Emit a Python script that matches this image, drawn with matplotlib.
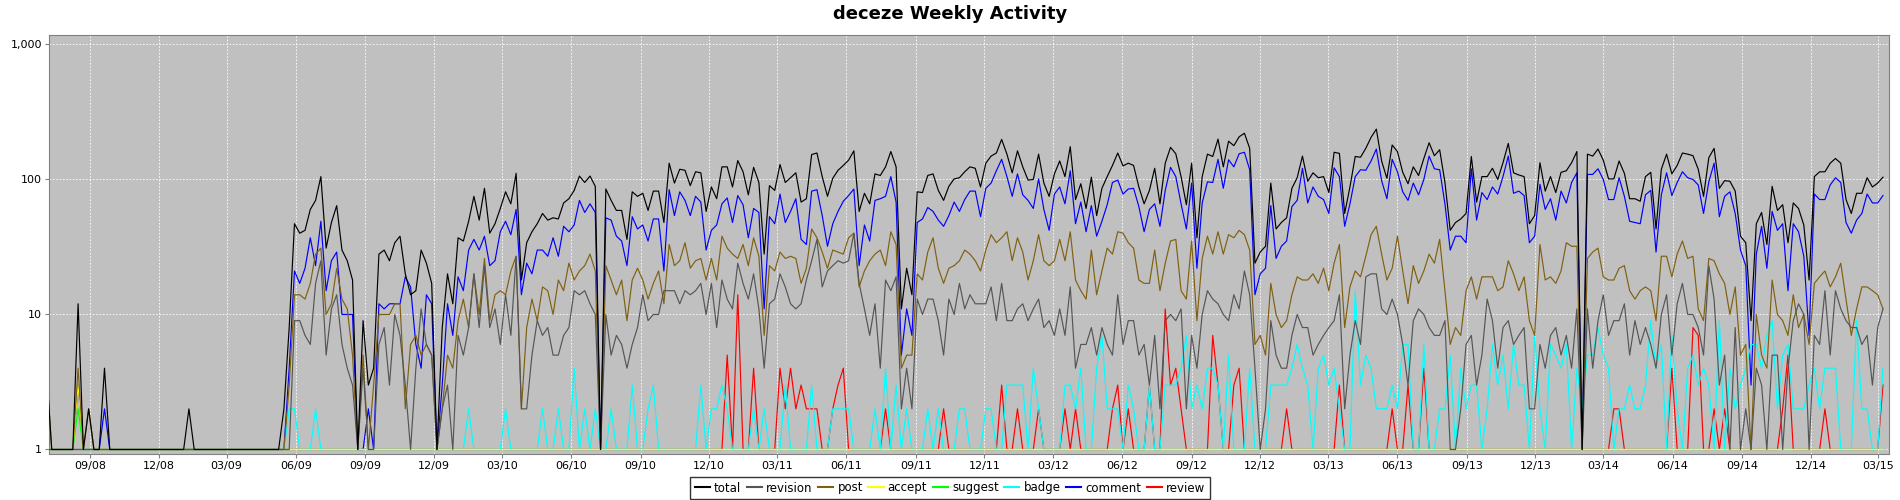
import datetime as dt

import matplotlib
matplotlib.use('Agg')
import matplotlib.dates as mdates
import matplotlib.pyplot as plt
import matplotlib.ticker as mticker
import numpy as np
from matplotlib.lines import Line2D


# weekly counts, week -1 (clipped at the left edge) .. week 347
FIRST_WEEK = dt.date(2008, 7, 5)

TOTAL = [4,
    1, 1, 1, 1, 1, 12, 1, 2, 1, 1,
    4, 1, 1, 1, 1, 1, 1, 1, 1, 1,
    1, 1, 1, 1, 1, 1, 2, 1, 1, 1,
    1, 1, 1, 1, 1, 1, 1, 1, 1, 1,
    1, 1, 1, 1, 2, 8, 47, 40, 42, 60,
    70, 105, 31, 48, 64, 30, 25, 18, 1, 9,
    3, 4, 28, 30, 25, 34, 38, 20, 14, 15,
    30, 24, 17, 1, 8, 20, 12, 37, 35, 49,
    75, 50, 86, 40, 47, 61, 81, 66, 111, 18,
    34, 41, 47, 56, 50, 52, 51, 67, 72, 83,
    106, 95, 106, 89, 1, 85, 70, 59, 59, 36,
    81, 75, 79, 59, 82, 82, 48, 132, 94, 119,
    117, 90, 114, 112, 58, 88, 72, 124, 124, 88,
    138, 114, 77, 123, 95, 28, 90, 83, 129, 95,
    103, 112, 68, 72, 153, 157, 105, 75, 102, 117,
    127, 139, 163, 58, 79, 66, 110, 107, 124, 161,
    124, 11, 22, 14, 81, 80, 107, 110, 83, 70,
    89, 101, 103, 114, 124, 121, 88, 132, 149, 157,
    198, 154, 112, 163, 124, 99, 100, 154, 94, 75,
    110, 137, 105, 175, 71, 93, 61, 104, 54, 86,
    105, 127, 157, 126, 132, 127, 88, 66, 83, 121,
    66, 132, 173, 155, 105, 65, 132, 37, 105, 154,
    148, 199, 124, 192, 178, 207, 220, 170, 24, 29,
    32, 94, 43, 48, 52, 86, 103, 149, 97, 112,
    103, 105, 80, 159, 156, 56, 88, 148, 146, 170,
    205, 236, 137, 102, 180, 161, 113, 93, 124, 107,
    143, 187, 150, 166, 95, 42, 48, 51, 56, 148,
    68, 105, 105, 121, 100, 133, 185, 112, 108, 105,
    47, 54, 133, 82, 105, 80, 113, 116, 133, 161,
    1, 154, 149, 168, 139, 101, 101, 137, 111, 72,
    72, 69, 105, 113, 43, 119, 154, 110, 127, 157,
    154, 150, 119, 75, 145, 170, 86, 98, 97, 82,
    38, 34, 9, 47, 57, 33, 89, 59, 65, 34,
    67, 61, 46, 18, 105, 114, 114, 132, 143, 132,
    71, 56, 79, 79, 103, 88, 94, 104]

COMMENT = [1,
    1, 1, 1, 1, 1, 3, 1, 1, 1, 1,
    2, 1, 1, 1, 1, 1, 1, 1, 1, 1,
    1, 1, 1, 1, 1, 1, 1, 1, 1, 1,
    1, 1, 1, 1, 1, 1, 1, 1, 1, 1,
    1, 1, 1, 1, 1, 4, 21, 17, 22, 37,
    23, 49, 15, 25, 29, 10, 10, 10, 1, 1,
    2, 1, 12, 11, 12, 12, 12, 19, 16, 6,
    4, 14, 12, 1, 3, 12, 7, 19, 15, 30,
    36, 30, 38, 23, 25, 41, 49, 39, 60, 14,
    24, 20, 30, 30, 27, 37, 27, 45, 41, 46,
    70, 57, 66, 57, 1, 52, 50, 38, 35, 23,
    53, 43, 46, 35, 51, 51, 21, 84, 54, 81,
    70, 54, 75, 68, 30, 42, 46, 66, 73, 48,
    76, 65, 37, 61, 57, 11, 53, 47, 78, 48,
    58, 72, 36, 33, 82, 84, 54, 32, 47, 58,
    69, 76, 85, 23, 46, 35, 70, 72, 75, 105,
    68, 5, 11, 7, 48, 51, 62, 58, 50, 45,
    54, 68, 58, 71, 82, 82, 53, 86, 94, 116,
    141, 105, 75, 110, 77, 70, 61, 101, 60, 42,
    78, 88, 66, 116, 47, 68, 41, 64, 38, 49,
    65, 95, 99, 78, 85, 86, 63, 41, 60, 66,
    45, 83, 123, 105, 66, 43, 94, 22, 67, 96,
    95, 141, 86, 140, 124, 155, 159, 118, 14, 20,
    22, 64, 26, 32, 35, 63, 70, 121, 67, 88,
    75, 71, 56, 122, 105, 45, 66, 105, 118, 117,
    137, 168, 98, 72, 141, 114, 81, 70, 94, 77,
    100, 149, 120, 118, 66, 30, 38, 38, 34, 120,
    50, 80, 71, 88, 78, 105, 149, 79, 82, 76,
    34, 38, 92, 60, 72, 50, 82, 67, 95, 112,
    1, 109, 109, 120, 100, 71, 71, 103, 75, 49,
    48, 47, 77, 83, 29, 77, 112, 76, 95, 114,
    103, 100, 91, 56, 96, 132, 53, 75, 81, 56,
    30, 23, 3, 28, 45, 22, 58, 42, 47, 15,
    47, 41, 27, 7, 78, 71, 71, 91, 103, 95,
    48, 40, 50, 56, 78, 67, 67, 76]

POST = [4,
    1, 1, 1, 1, 1, 4, 1, 2, 1, 1,
    1, 1, 1, 1, 1, 1, 1, 1, 1, 1,
    1, 1, 1, 1, 1, 1, 1, 1, 1, 1,
    1, 1, 1, 1, 1, 1, 1, 1, 1, 1,
    1, 1, 1, 1, 1, 3, 14, 14, 13, 17,
    28, 31, 10, 12, 22, 13, 11, 5, 1, 5,
    1, 3, 10, 10, 10, 12, 12, 2, 6, 7,
    5, 6, 5, 1, 2, 5, 4, 9, 13, 8,
    20, 10, 26, 9, 14, 15, 14, 21, 27, 2,
    8, 13, 9, 16, 15, 10, 18, 15, 24, 18,
    21, 23, 28, 21, 1, 23, 18, 14, 18, 9,
    18, 22, 18, 13, 17, 21, 12, 33, 23, 25,
    34, 22, 25, 26, 18, 26, 18, 38, 31, 28,
    26, 33, 23, 37, 27, 7, 23, 21, 29, 26,
    27, 26, 17, 22, 43, 37, 29, 22, 30, 29,
    28, 37, 40, 16, 21, 25, 28, 30, 23, 41,
    33, 4, 5, 5, 20, 18, 29, 37, 22, 17,
    22, 23, 25, 30, 28, 25, 21, 30, 39, 34,
    37, 41, 25, 37, 29, 18, 25, 39, 25, 23,
    25, 36, 25, 41, 18, 15, 13, 30, 14, 21,
    31, 28, 41, 40, 34, 31, 18, 17, 17, 30,
    15, 24, 35, 36, 15, 13, 35, 9, 26, 38,
    28, 41, 28, 39, 37, 42, 39, 30, 6, 7,
    5, 17, 10, 8, 9, 14, 19, 18, 18, 20,
    17, 22, 15, 24, 33, 8, 16, 21, 19, 27,
    39, 45, 28, 18, 22, 38, 21, 12, 23, 17,
    21, 28, 24, 36, 15, 6, 8, 7, 15, 19,
    13, 19, 19, 19, 15, 16, 25, 20, 15, 19,
    9, 7, 33, 18, 19, 17, 21, 34, 32, 32,
    1, 26, 29, 31, 19, 18, 18, 22, 23, 15,
    13, 15, 16, 15, 9, 27, 27, 19, 28, 35,
    26, 27, 11, 9, 26, 25, 20, 17, 10, 16,
    5, 6, 1, 10, 5, 4, 18, 10, 9, 7,
    14, 8, 10, 6, 17, 19, 21, 16, 19, 24,
    13, 7, 11, 16, 16, 15, 14, 11]

REVISION = [1,
    1, 1, 1, 1, 1, 1, 1, 1, 1, 1,
    1, 1, 1, 1, 1, 1, 1, 1, 1, 1,
    1, 1, 1, 1, 1, 1, 1, 1, 1, 1,
    1, 1, 1, 1, 1, 1, 1, 1, 1, 1,
    1, 1, 1, 1, 1, 1, 9, 9, 7, 6,
    17, 25, 5, 11, 14, 6, 4, 3, 1, 4,
    1, 1, 6, 8, 3, 10, 7, 3, 1, 4,
    11, 6, 5, 1, 2, 3, 1, 7, 5, 8,
    20, 8, 23, 8, 11, 6, 14, 7, 27, 2,
    2, 5, 9, 7, 8, 5, 5, 7, 8, 15,
    14, 15, 12, 10, 1, 10, 5, 7, 6, 4,
    6, 8, 14, 9, 10, 10, 15, 15, 15, 12,
    15, 14, 15, 17, 10, 17, 8, 18, 13, 11,
    24, 17, 13, 20, 11, 4, 12, 13, 20, 16,
    12, 11, 12, 18, 25, 36, 16, 21, 23, 25,
    24, 25, 40, 17, 11, 7, 12, 4, 18, 15,
    19, 2, 4, 2, 13, 10, 13, 13, 9, 5,
    13, 10, 17, 11, 14, 12, 12, 12, 16, 9,
    17, 9, 9, 11, 12, 9, 11, 13, 8, 9,
    7, 11, 7, 16, 4, 6, 6, 8, 5, 8,
    6, 5, 14, 6, 9, 9, 5, 6, 3, 7,
    2, 9, 10, 9, 11, 2, 7, 4, 10, 15,
    13, 12, 10, 9, 14, 11, 21, 14, 4, 1,
    2, 9, 5, 4, 4, 7, 10, 8, 8, 5,
    6, 7, 8, 9, 14, 2, 5, 9, 6, 19,
    20, 20, 11, 10, 13, 10, 6, 3, 9, 11,
    10, 8, 7, 7, 9, 1, 1, 2, 6, 7,
    3, 5, 13, 9, 4, 8, 9, 6, 7, 8,
    2, 2, 6, 4, 7, 8, 5, 7, 4, 11,
    1, 11, 4, 9, 14, 7, 9, 9, 12, 5,
    9, 6, 8, 6, 4, 10, 14, 5, 12, 17,
    10, 10, 8, 5, 23, 13, 3, 5, 1, 8,
    1, 2, 1, 4, 3, 1, 5, 5, 1, 4,
    9, 12, 10, 1, 7, 6, 15, 5, 15, 11,
    9, 8, 8, 6, 7, 3, 8, 11]

# sparse series: week index -> count, every other week sits on the floor (1)
BADGE_PEAKS = {
    45: 2, 46: 2, 50: 2, 79: 2, 86: 2, 93: 2, 96: 2, 99: 4, 101: 2, 103: 2,
    106: 2, 110: 3, 113: 2, 114: 3, 123: 3, 125: 2, 126: 2, 127: 3, 128: 2,
    133: 2, 135: 2, 139: 3, 144: 3, 148: 2, 149: 2, 150: 2, 151: 2, 156: 2,
    158: 4, 160: 3, 162: 2, 166: 2, 168: 2, 172: 2, 173: 2, 177: 2, 178: 2,
    181: 3, 182: 3, 183: 3, 184: 3, 186: 4, 187: 2, 192: 3, 193: 3, 194: 2,
    195: 4, 198: 4, 199: 7, 200: 2, 201: 2, 202: 2, 204: 3, 205: 2, 208: 3,
    211: 3, 212: 3, 213: 3, 214: 4, 215: 7, 216: 2, 217: 3, 218: 2, 219: 4,
    220: 4, 221: 3, 223: 5, 227: 4, 231: 3, 232: 3, 233: 3, 234: 3, 235: 4,
    236: 6, 237: 4, 238: 3, 240: 4, 241: 5, 242: 3, 243: 4, 244: 2, 247: 15,
    248: 3, 249: 5, 250: 4, 251: 2, 252: 2, 253: 2, 254: 3, 255: 2, 256: 6,
    257: 6, 260: 6, 263: 2, 264: 2, 265: 5, 267: 4, 268: 2, 269: 3, 270: 3,
    272: 2, 273: 6, 274: 3, 275: 5, 276: 2, 277: 6, 278: 3, 279: 3, 281: 7,
    282: 2, 284: 6, 285: 5, 286: 4, 287: 6, 289: 4, 290: 2, 291: 5, 292: 5,
    293: 8, 294: 5, 295: 4, 297: 2, 298: 2, 299: 3, 300: 2, 301: 2, 302: 3,
    303: 9, 304: 4, 305: 6, 307: 7, 308: 2, 310: 4, 311: 5, 312: 3, 313: 4,
    314: 3, 316: 9, 318: 4, 319: 2, 320: 3, 321: 4, 322: 6, 323: 6, 324: 4,
    325: 7, 326: 9, 327: 2, 328: 5, 329: 6, 330: 2, 331: 2, 332: 2, 333: 3,
    334: 4, 335: 2, 336: 4, 337: 4, 338: 4, 342: 9, 343: 2, 344: 2, 347: 4,
}

REVIEW_PEAKS = {
    128: 5, 130: 14, 133: 4, 138: 4, 139: 2, 140: 4, 141: 2, 142: 3, 143: 2,
    144: 2, 145: 2, 148: 2, 149: 3, 150: 4, 158: 2, 169: 2, 180: 3, 183: 2,
    187: 2, 192: 2, 194: 2, 201: 2, 202: 3, 204: 2, 208: 3, 211: 11, 212: 3,
    213: 4, 214: 2, 220: 7, 221: 3, 224: 3, 225: 4, 234: 2, 244: 3, 254: 2,
    257: 3, 260: 4, 296: 2, 297: 2, 307: 4, 311: 8, 312: 7, 315: 2, 317: 2,
    328: 2, 329: 5, 336: 2, 347: 3,
}

ACCEPT_PEAKS = {5: 3}
SUGGEST_PEAKS = {5: 2}

SERIES_NAMES = ['total', 'revision', 'post', 'accept', 'suggest', 'badge', 'comment', 'review']
SERIES_COLORS = ['#000000', '#555555', '#806010', '#FFFF00', '#00FF00', '#00FFFF', '#0000FF', '#FF0000']


def from_peaks(peaks, n):
    vals = np.ones(n)
    for week, count in peaks.items():
        vals[week + 1] = count
    return vals


n = len(TOTAL)
dates = [FIRST_WEEK + dt.timedelta(days=7 * k) for k in range(n)]
values = {
    'total': TOTAL,
    'revision': REVISION,
    'post': POST,
    'accept': from_peaks(ACCEPT_PEAKS, n),
    'suggest': from_peaks(SUGGEST_PEAKS, n),
    'badge': from_peaks(BADGE_PEAKS, n),
    'comment': COMMENT,
    'review': from_peaks(REVIEW_PEAKS, n),
}

fig = plt.figure(figsize=(19, 5), dpi=100)
ax = fig.add_axes([49 / 1900, 46 / 500, 1840 / 1900, 419 / 500])
ax.set_facecolor('#C0C0C0')

# first series drawn on top, like the original renderer
for k, (name, color) in enumerate(zip(SERIES_NAMES, SERIES_COLORS)):
    ax.plot(dates, values[name], color=color, lw=0.85, zorder=20 - k)

ax.set_yscale('log')
ax.set_ylim(0.926, 1175)
ax.yaxis.set_major_locator(mticker.FixedLocator([1, 10, 100, 1000]))
ax.yaxis.set_minor_locator(mticker.NullLocator())
ax.yaxis.set_major_formatter(mticker.FuncFormatter(lambda v, p: f'{int(round(v)):,}'))

start = dt.datetime(2008, 7, 12)
ax.set_xlim(start - dt.timedelta(days=3.6), start + dt.timedelta(days=2437))
ax.xaxis.set_major_locator(mdates.MonthLocator(bymonth=[3, 6, 9, 12]))
ax.xaxis.set_major_formatter(mdates.DateFormatter('%m/%y'))

ax.grid(True, color='white', linestyle=(0, (2, 2)), linewidth=0.6)
ax.set_axisbelow(True)
for sp in ax.spines.values():
    sp.set_color('#808080')
ax.tick_params(length=3, color='#808080', labelsize=8, pad=2)

fig.text(0.5, 1 - 14 / 500, 'deceze Weekly Activity', ha='center', va='center',
         fontsize=13, fontweight='bold')

handles = [Line2D([], [], color=c, lw=1.5) for c in SERIES_COLORS]
leg = fig.legend(handles, SERIES_NAMES, loc='center', bbox_to_anchor=(0.5, 1 - 488 / 500),
                 ncol=8, fontsize=8.5, frameon=True, fancybox=False, edgecolor='black',
                 handlelength=1.3, handletextpad=0.35, columnspacing=0.45, borderpad=0.4,
                 borderaxespad=0)
leg.get_frame().set_linewidth(1.0)

fig.savefig('out.png', dpi=100)
